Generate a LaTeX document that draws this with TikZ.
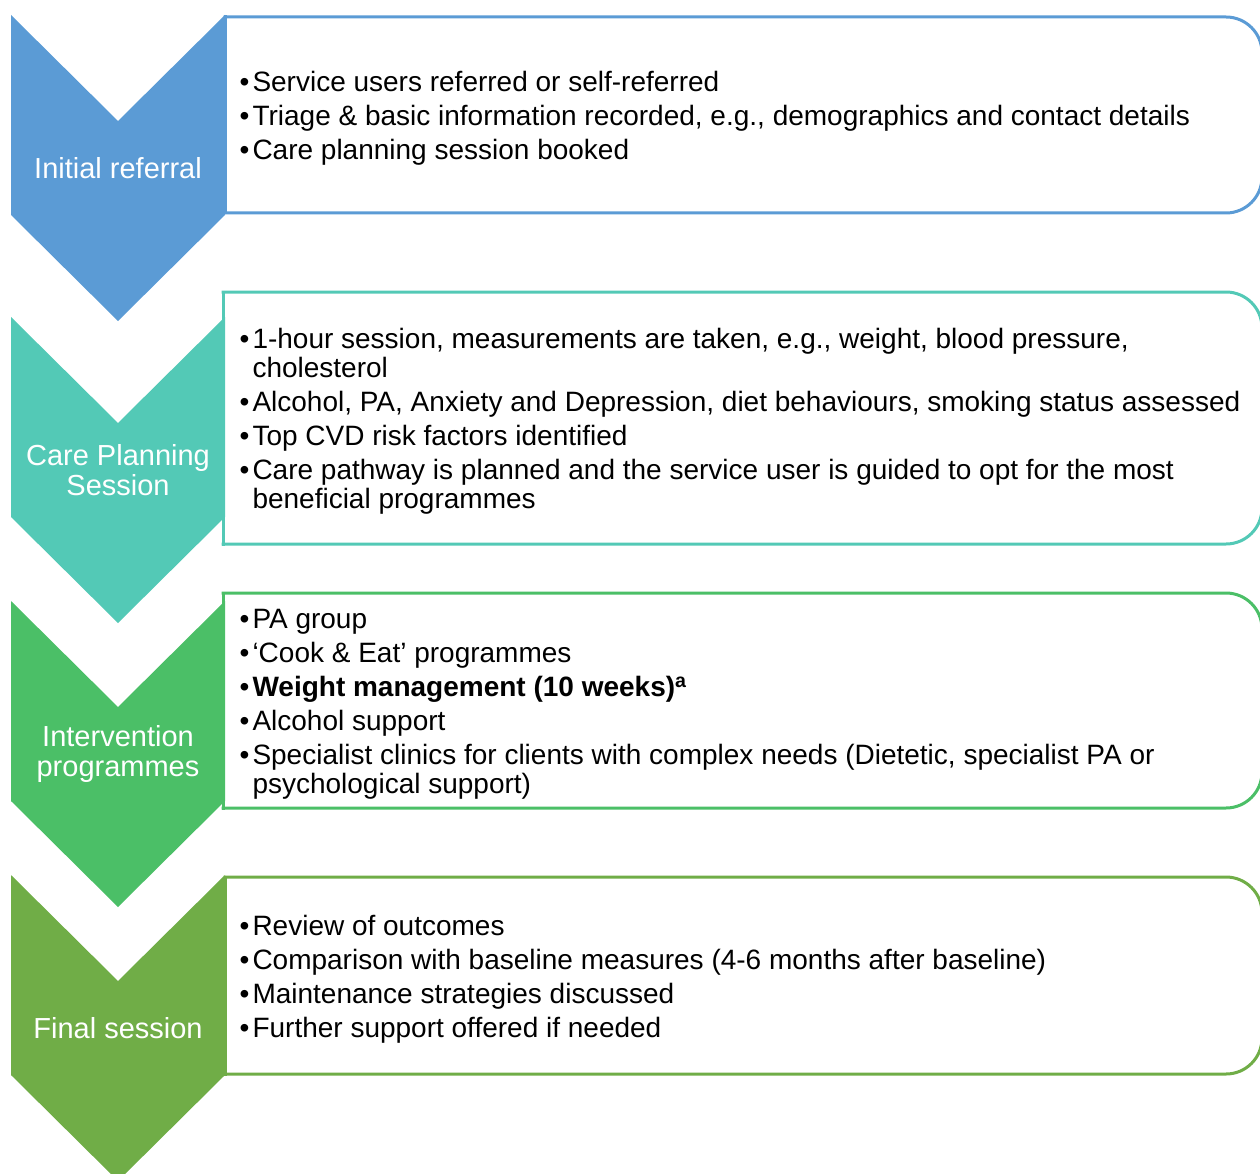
\documentclass[tikz,border=0pt]{standalone}
\usepackage{fontspec}
\setmainfont{Liberation Sans}

\definecolor{cBlue}{HTML}{5B9BD5}
\definecolor{cTeal}{HTML}{53C9B6}
\definecolor{cGreen}{HTML}{4BBF67}
\definecolor{cOlive}{HTML}{70AD47}

\newcommand\bul{•\kern3pt}
\newcommand\hang{\phantom{•}\kern3pt}

\tikzset{
  stagelabel/.style={text=white, align=center, inner sep=0pt,
    font=\fontsize{29}{30}\selectfont},
  itemtext/.style={anchor=west, align=left, inner sep=0pt, text=black,
    font=\fontsize{28}{29}\selectfont},
  panelline/.style={draw=#1, line width=3pt, line cap=rect},
}

% chevron with its top-left corner at x=11, y=#2 (y grows downwards)
\newcommand\chevronshape[2]{%
  \fill[#1] (11,#2) -- (118,#2+106) -- (225,#2) -- (225,#2+200)
    -- (118,#2+306) -- (11,#2+200) -- cycle;}

% panel open to the right, rounded corners on the right side
\newcommand\panelshape[4]{%
  \draw[panelline=#1, rounded corners=36] (#2,#3) -- (1262,#3) -- (1262,#4) -- (#2,#4);
  \draw[panelline=#1] (#2,#3) -- (#2,#4);}

\begin{document}
\begin{tikzpicture}[x=1pt, y=-1pt]
  \useasboundingbox (0,0) rectangle (1260,1174);
  \clip (0,0) rectangle (1260,1174);

  % panels
  \panelshape{cBlue}{225}{17}{213}
  \panelshape{cTeal}{223}{292}{544}
  \panelshape{cGreen}{223}{593}{808}
  \panelshape{cOlive}{225}{877}{1074}

  % chevrons
  \chevronshape{cBlue}{15}
  \chevronshape{cTeal}{317}
  \chevronshape{cGreen}{601}
  \chevronshape{cOlive}{875}

  % stage names
  \node[stagelabel] (l1) at (118,168) {Initial referral};
  \node[stagelabel] (l2) at (118,470) {Care Planning\\Session};
  \node[stagelabel] (l3) at (118,754) {Intervention\\programmes};
  \node[stagelabel] (l4) at (118,1028) {Final session};

  % panel contents
  \node[itemtext] (t1) at (239.5,118) {%
    \bul Service users referred or self-referred\\[5pt]
    \bul Triage \& basic information recorded, e.g., demographics and contact details\\[5pt]
    \bul Care planning session booked};

  \node[itemtext] (t2) at (239.5,421) {%
    \bul 1-hour session, measurements are taken, e.g., weight, blood pressure,\\
    \hang cholesterol\\[5pt]
    \bul Alcohol, PA, Anxiety and Depression, diet behaviours, smoking status assessed\\[5pt]
    \bul Top CVD risk factors identified\\[5pt]
    \bul Care pathway is planned and the service user is guided to opt for the most\\
    \hang beneficial programmes};

  \node[itemtext] (t3) at (239.5,704) {%
    \bul PA group\\[5pt]
    \bul ‘Cook \& Eat’ programmes\\[5pt]
    \bul \textbf{Weight management (10 weeks)\textsuperscript{a}}\\[5pt]
    \bul Alcohol support\\[5pt]
    \bul Specialist clinics for clients with complex needs (Dietetic, specialist PA or\\
    \hang psychological support)};

  \node[itemtext] (t4) at (239.5,979) {%
    \bul Review of outcomes\\[5pt]
    \bul Comparison with baseline measures (4-6 months after baseline)\\[5pt]
    \bul Maintenance strategies discussed\\[5pt]
    \bul Further support offered if needed};
\end{tikzpicture}
\end{document}
